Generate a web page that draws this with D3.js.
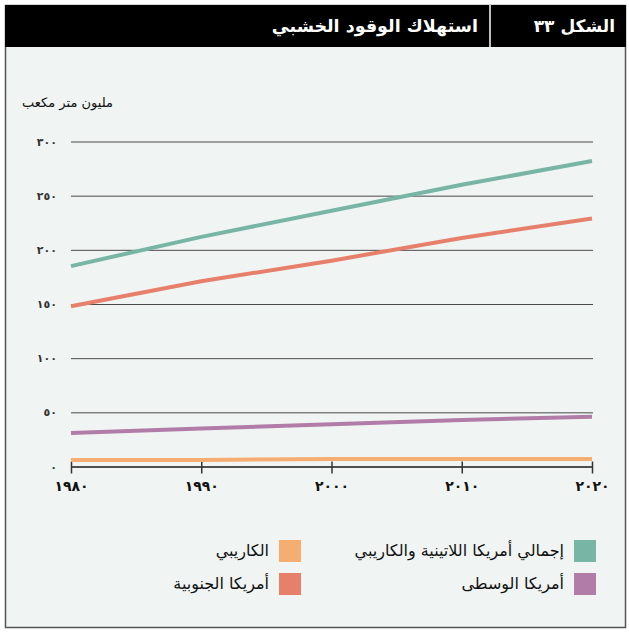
<!DOCTYPE html>
<html>
<head>
<meta charset="utf-8">
<script src="https://cdn.jsdelivr.net/npm/d3@7"></script>
<style>
  body { margin: 0; background: #fff; }
  svg text { font-family: "DejaVu Sans", sans-serif; }
</style>
</head>
<body>
<svg id="chart" width="629" height="632"></svg>
<script>
// data
var years = [1980, 1990, 2000, 2010, 2020];
var totalLac = [185, 212, 236, 260, 282];
var southAmerica = [148, 171, 190, 211, 229];
var centralAmerica = [31, 35, 39, 43, 46];
var caribbean = [6, 6, 7, 7, 7];
var yTicks = [0, 50, 100, 150, 200, 250, 300];

var series = [
  { name: 'إجمالي أمريكا اللاتينية والكاريبي', values: totalLac, color: '#78b5a5' },
  { name: 'أمريكا الجنوبية', values: southAmerica, color: '#e7806b' },
  { name: 'أمريكا الوسطى', values: centralAmerica, color: '#b27ca9' },
  { name: 'الكاريبي', values: caribbean, color: '#f6ad72' }
];

// arabic-indic numerals
var arLocale = d3.formatLocale({
  decimal: '.', thousands: '', grouping: [3], currency: ['', ''],
  numerals: ['٠', '١', '٢', '٣', '٤', '٥', '٦', '٧', '٨', '٩']
});
var fmt = arLocale.format('d');

var svg = d3.select('#chart');

// frame + header
svg.append('rect')
  .attr('x', 5.5).attr('y', 5.5).attr('width', 620).attr('height', 622)
  .attr('fill', '#f0f5f3').attr('stroke', '#555').attr('stroke-width', 1.5);
svg.append('rect')
  .attr('x', 5).attr('y', 5).attr('width', 621).attr('height', 42)
  .attr('fill', '#000');
svg.append('line')
  .attr('x1', 490).attr('x2', 490).attr('y1', 5).attr('y2', 47)
  .attr('stroke', '#fff').attr('stroke-width', 1.5);
svg.append('text')
  .attr('x', 615).attr('y', 32)
  .attr('text-anchor', 'end')
  .style('font-weight', 'bold').style('font-size', '17px')
  .attr('fill', '#fff')
  .text('الشكل ' + fmt(33));
svg.append('text')
  .attr('x', 478).attr('y', 32)
  .attr('text-anchor', 'end')
  .style('font-weight', 'bold').style('font-size', '17.5px')
  .attr('fill', '#fff')
  .text('استهلاك الوقود الخشبي');

// scales
var x = d3.scaleLinear().domain([1980, 2020]).range([71, 592]);
var y = d3.scaleLinear().domain([0, 300]).range([466.5, 141.5]);

svg.append('text')
  .attr('x', 113).attr('y', 107)
  .attr('text-anchor', 'end')
  .style('font-size', '13px')
  .attr('fill', '#111')
  .text('مليون متر مكعب');

// gridlines + y labels
var yAxis = svg.append('g')
  .call(d3.axisLeft(y).tickValues(yTicks).tickFormat(fmt)
    .tickSizeInner(-(592 - 71 + 1)).tickSizeOuter(0).tickPadding(14))
  .attr('transform', 'translate(71,0)');
yAxis.select('.domain').remove();
yAxis.selectAll('.tick line').attr('stroke', '#4a4a4a').attr('stroke-width', 1);
yAxis.selectAll('.tick text')
  .style('font-size', '11px').style('font-weight', 'bold').attr('fill', '#333');

// x axis
var xAxis = svg.append('g')
  .attr('transform', 'translate(0,' + y(0) + ')')
  .call(d3.axisBottom(x).tickValues(years).tickFormat(fmt)
    .tickSizeInner(7).tickSizeOuter(0).tickPadding(8));
xAxis.select('.domain').attr('stroke', '#000').attr('stroke-width', 1.2);
xAxis.selectAll('.tick line').attr('y1', -5).attr('stroke', '#333').attr('stroke-width', 1.5);
xAxis.selectAll('.tick text')
  .style('font-size', '14px').style('font-weight', 'bold').attr('fill', '#111');

// lines
var line = d3.line()
  .x(function (d, i) { return x(years[i]); })
  .y(function (d) { return y(d); });

svg.append('g').selectAll('path')
  .data(series)
  .join('path')
  .attr('d', function (s) { return line(s.values); })
  .attr('fill', 'none')
  .attr('stroke', function (s) { return s.color; })
  .attr('stroke-width', 4);

// legend: two columns, right to left
var legendPos = [
  { sx: 574, sy: 540 },
  { sx: 279, sy: 573 },
  { sx: 574, sy: 573 },
  { sx: 279, sy: 540 }
];
var legend = svg.append('g').selectAll('g')
  .data(series)
  .join('g')
  .attr('transform', function (s, i) {
    return 'translate(' + legendPos[i].sx + ',' + legendPos[i].sy + ')';
  });
legend.append('rect')
  .attr('width', 22).attr('height', 22)
  .attr('fill', function (s) { return s.color; });
legend.append('text')
  .attr('x', -10).attr('y', 16)
  .attr('text-anchor', 'end')
  .style('font-size', '16px')
  .attr('fill', '#111')
  .text(function (s) { return s.name; });
</script>
</body>
</html>
